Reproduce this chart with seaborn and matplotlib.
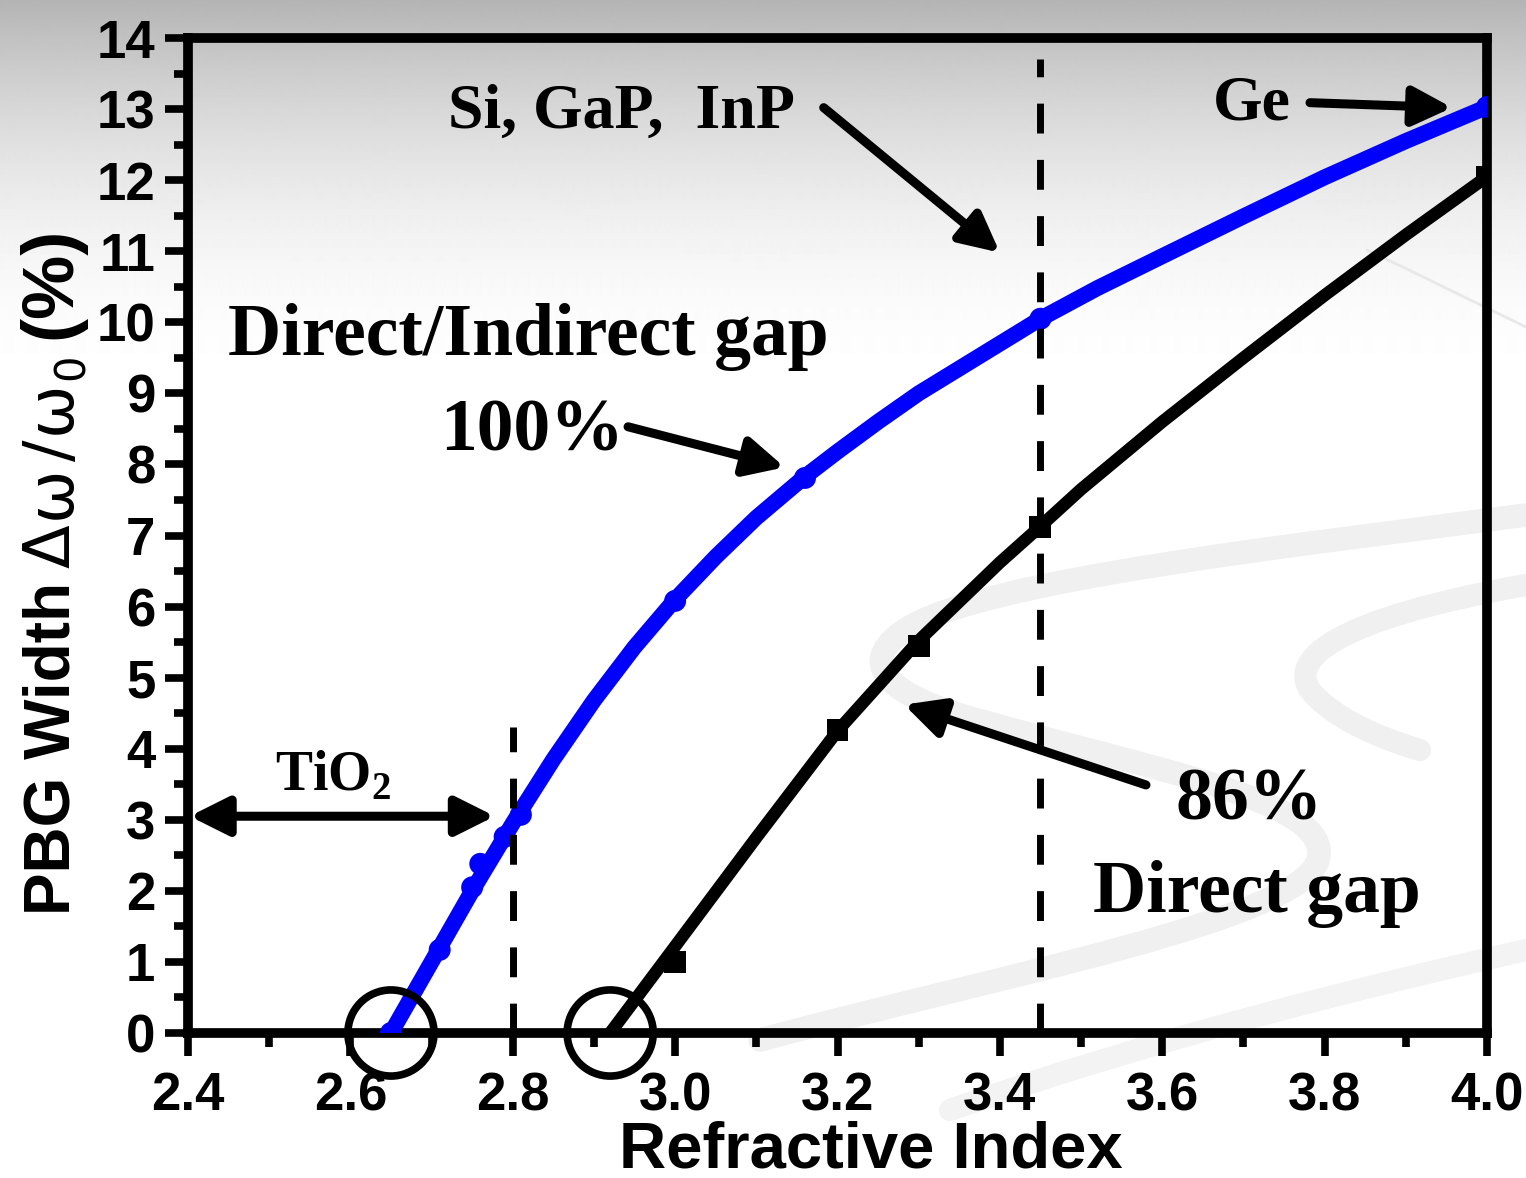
import numpy as np
import matplotlib
matplotlib.use("Agg")
import matplotlib.pyplot as plt
import seaborn as sns
from matplotlib.ticker import MultipleLocator, FormatStrFormatter
from matplotlib.path import Path
from matplotlib.patches import PathPatch

# ---- data -------------------------------------------------------------
# 100 % (direct / indirect) photonic band gap: computed points
n_all = [2.65, 2.71, 2.75, 2.76, 2.79, 2.81, 3.00, 3.16, 3.45, 4.00]
gap_all = [0.00, 1.17, 2.05, 2.38, 2.76, 3.07, 6.08, 7.81, 10.05, 13.03]
# fitted curve through the 100 % points
n_all_curve = [2.65, 2.70, 2.75, 2.80, 2.85, 2.90, 2.95, 3.00, 3.05, 3.10,
               3.16, 3.20, 3.25, 3.30, 3.38, 3.45, 3.52, 3.60, 3.70, 3.80,
               3.90, 4.00]
gap_all_curve = [0.00, 1.00, 2.00, 2.95, 3.85, 4.68, 5.43, 6.10, 6.70, 7.25,
                 7.83, 8.18, 8.60, 9.00, 9.56, 10.05, 10.48, 10.93, 11.49, 12.04,
                 12.55, 13.03]

# 86 % (direct gap only): computed points
n_direct = [3.00, 3.20, 3.30, 3.45, 4.00]
gap_direct = [1.00, 4.26, 5.45, 7.12, 12.05]
# fitted curve through the 86 % points
n_direct_curve = [2.92, 3.00, 3.10, 3.20, 3.30, 3.40, 3.45, 3.50, 3.60, 3.70,
                  3.80, 3.90, 4.00]
gap_direct_curve = [0.00, 1.22, 2.75, 4.25, 5.52, 6.62, 7.13, 7.65, 8.60, 9.50,
                    10.38, 11.23, 12.05]

# refractive index where each gap opens
n_open = [2.65, 2.92]
gap_open = [0.0, 0.0]

# reference materials
n_tio2 = 2.80
n_si = 3.45

# ---- figure -----------------------------------------------------------
W, H = 1526, 1178
sns.set_theme(style="ticks")
plt.rcParams["font.family"] = ["Liberation Sans", "DejaVu Sans"]
plt.rcParams.update({"font.weight": "bold", "text.color": "black",
                     "axes.labelcolor": "black", "xtick.color": "black",
                     "ytick.color": "black", "axes.edgecolor": "black"})

fig = plt.figure(figsize=(W / 100, H / 100), dpi=100)
fig.patch.set_facecolor("white")

def fx(px):
    return px / W

def fy(py):
    return 1 - py / H

# slide-style background: grey fade at the top and faint ribbons
bg = fig.add_axes([0, 0, 1, 1], zorder=-10)
bg.set_xlim(0, W)
bg.set_ylim(H, 0)
bg.axis("off")
rows = np.arange(H)
shade = np.where(rows < 400, 255 - 75 * (1 - rows / 400) ** 2, 255) / 255
bg.imshow(np.repeat(shade[:, None], 2, axis=1), cmap="gray", vmin=0, vmax=1,
          extent=[0, W, H, 0], aspect="auto", interpolation="bilinear")

def ribbon(verts, lw, color):
    codes = [Path.MOVETO] + [Path.CURVE4] * (len(verts) - 1)
    bg.add_patch(PathPatch(Path(verts, codes), facecolor="none", edgecolor=color,
                           lw=lw, capstyle="round", joinstyle="round"))

ribbon([(1526, 515), (1300, 545), (980, 580), (905, 630),
        (860, 660), (880, 690), (960, 715),
        (1150, 770), (1335, 800), (1318, 860),
        (1300, 920), (1000, 975), (760, 1040)], 17, "#f0f0f0")
ribbon([(1526, 585), (1330, 620), (1290, 660), (1310, 690),
        (1330, 715), (1370, 735), (1420, 750)], 16, "#f0f0f0")
ribbon([(1526, 950), (1350, 990), (1150, 1040), (950, 1110)], 16, "#f3f3f3")
ribbon([(1367, 250), (1420, 275), (1470, 300), (1526, 327)], 2, "#e8e8e8")

# main axes
ax = fig.add_axes([fx(188), fy(1033), (1487 - 188) / W, (1033 - 38) / H])
ax.set_facecolor("none")

sns.lineplot(x=n_all_curve, y=gap_all_curve, ax=ax, color="#0000ff", linewidth=11.5,
             sort=False, errorbar=None, zorder=3)
sns.scatterplot(x=n_all, y=gap_all, ax=ax, color="#0000ff", marker="o", s=250,
                edgecolor="none", zorder=4)
sns.lineplot(x=n_direct_curve, y=gap_direct_curve, ax=ax, color="black", linewidth=9,
             sort=False, errorbar=None, zorder=3)
sns.scatterplot(x=n_direct, y=gap_direct, ax=ax, color="black", marker="s", s=250,
                edgecolor="none", zorder=4)
ax.scatter(n_open, gap_open, s=62 ** 2, facecolors="none", edgecolors="black",
           linewidths=5.5, zorder=7, clip_on=False)

# material guide lines
ax.plot([n_tio2, n_tio2], [0, 4.3], color="black", lw=5, dashes=(4.3, 3.8), zorder=6)
ax.plot([n_si, n_si], [0, 13.7], color="black", lw=5, dashes=(4.3, 3.8), zorder=6)

ax.set_xlim(2.4, 4.0)
ax.set_ylim(0, 14)
ax.xaxis.set_major_locator(MultipleLocator(0.2))
ax.xaxis.set_minor_locator(MultipleLocator(0.1))
ax.xaxis.set_major_formatter(FormatStrFormatter("%.1f"))
ax.yaxis.set_major_locator(MultipleLocator(1))
ax.yaxis.set_minor_locator(MultipleLocator(0.5))

for sp in ax.spines.values():
    sp.set_linewidth(7)
    sp.set_color("black")
    sp.set_visible(True)

ax.tick_params(which="major", direction="out", length=16.5, width=5.5, color="black",
               labelcolor="black", top=False, right=False, labelsize=38)
ax.tick_params(which="minor", direction="out", length=10, width=5.5, color="black",
               top=False, right=False)
ax.tick_params(axis="y", which="major", pad=7)
ax.tick_params(axis="x", which="major", pad=11)
for lab in ax.get_xticklabels() + ax.get_yticklabels():
    lab.set_fontweight("bold")
    lab.set_family("Liberation Sans")

ax.set_xlabel("Refractive Index", fontsize=47, fontweight="bold",
              family="Liberation Sans", color="black")
ax.xaxis.set_label_coords((871 - 188) / 1299, (1033 - 1120) / 995)
ax.set_ylabel("")

# annotations
serif = dict(family="Liberation Serif", fontweight="bold", color="black",
             ha="left", va="baseline", zorder=8)
ax.text(2.449, 9.54, "Direct/Indirect gap", fontsize=53, **serif)
ax.text(2.710, 8.20, "100%", fontsize=53, **serif)
ax.text(2.720, 12.73, "Si, GaP,  InP", fontsize=46, **serif)
ax.text(3.662, 12.85, "Ge", fontsize=46, **serif)
ax.text(2.507, 3.42, r"TiO$_\mathregular{2}$", fontsize=40, **serif)
ax.text(3.616, 3.00, "86%", fontsize=53, **serif)
ax.text(3.515, 1.70, "Direct gap", fontsize=53, **serif)

arrow = dict(arrowstyle="-|>,head_length=0.9,head_width=0.45", color="black", lw=6.5,
             mutation_scale=26, shrinkA=0, shrinkB=0)
dbl = dict(arrow, arrowstyle="<|-|>,head_length=0.9,head_width=0.45")
ax.annotate("", xy=(3.400, 10.98), xytext=(3.183, 13.02), arrowprops=arrow, zorder=8)
ax.annotate("", xy=(3.957, 13.02), xytext=(3.782, 13.09), arrowprops=arrow, zorder=8)
ax.annotate("", xy=(3.135, 7.96), xytext=(2.942, 8.53), arrowprops=arrow, zorder=8)
ax.annotate("", xy=(3.282, 4.62), xytext=(3.580, 3.49), arrowprops=arrow, zorder=8)
ax.annotate("", xy=(2.778, 3.05), xytext=(2.402, 3.05), arrowprops=dbl, zorder=8,
            annotation_clip=False)

# y-axis title built from pieces: bold words, a lighter symbol group,
# a subscript and the bold unit
fig.canvas.draw()
renderer = fig.canvas.get_renderer()
vert = dict(rotation=90, rotation_mode="anchor", ha="left", va="baseline", color="black")

def stack(text, x_px, start, gap, **kw):
    t = fig.text(fx(x_px), (start + gap) / H, text, **vert, **kw)
    return t.get_window_extent(renderer).y1

top = stack("PBG Width", 70, H - 915, 0, fontsize=46, fontweight="bold",
            family="Liberation Sans")
top += 14
for k, ch in enumerate("Δω/ω"):
    top = stack(ch, 70, top, 5 if k else 0, fontsize=46, fontweight="normal",
                family="DejaVu Sans")
top = stack("0", 84, top, 1, fontsize=30, fontweight="normal", family="DejaVu Sans")
stack("(%)", 70, top, 14, fontsize=52, fontweight="bold", family="Liberation Sans")

fig.savefig("out.png", dpi=100, facecolor=fig.get_facecolor())
